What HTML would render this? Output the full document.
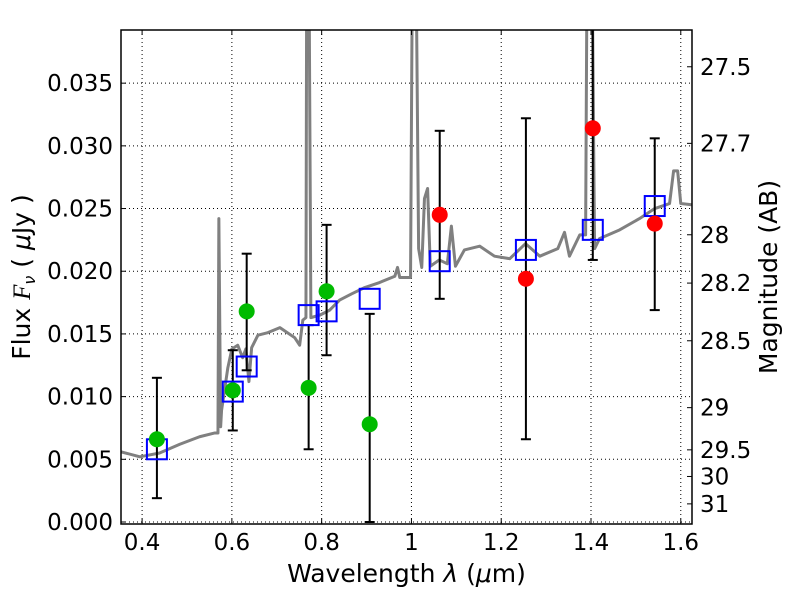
<!DOCTYPE html>
<html><head><meta charset="utf-8"><style>
body{margin:0;background:#fff;}
svg text{font-family:"DejaVu Sans","Liberation Sans",sans-serif;fill:#000;}
</style></head><body>
<svg id="chart" width="800" height="600" viewBox="0 0 800 600" xmlns="http://www.w3.org/2000/svg">
<rect x="0" y="0" width="800" height="600" fill="#fff"/>
<g id="grid"></g>
<g id="spec"></g>
<g id="marks"></g>
<g id="axes"></g>
</svg>
<script>
const specLam=[0.353,0.395,0.439,0.484,0.528,0.562,0.569,0.571,0.575,0.577,0.591,0.600,0.613,0.624,0.631,0.638,0.644,0.658,0.680,0.707,0.740,0.751,0.758,0.765,0.767,0.771,0.776,0.796,0.818,0.840,0.867,0.896,0.929,0.963,0.969,0.974,0.998,1.003,1.009,1.016,1.023,1.029,1.036,1.042,1.062,1.080,1.089,1.098,1.118,1.152,1.185,1.219,1.254,1.286,1.326,1.341,1.352,1.375,1.388,1.392,1.401,1.408,1.419,1.464,1.508,1.542,1.575,1.584,1.593,1.600,1.624];
const specFlux=[0.0056,0.0052,0.0055,0.0062,0.0068,0.0071,0.0071,0.0242,0.0076,0.0089,0.0123,0.0138,0.0141,0.0131,0.0138,0.0112,0.0139,0.0149,0.0151,0.0155,0.0147,0.0141,0.0161,0.0163,0.05,0.05,0.0163,0.0165,0.0169,0.0177,0.0182,0.0187,0.0191,0.0196,0.0203,0.0195,0.0195,0.05,0.05,0.0218,0.0203,0.0258,0.0266,0.0204,0.0209,0.0206,0.0236,0.0204,0.0217,0.022,0.0212,0.021,0.0222,0.0212,0.0218,0.0231,0.0212,0.0229,0.0229,0.05,0.05,0.0218,0.0226,0.0233,0.0242,0.025,0.0254,0.028,0.028,0.0254,0.0253];
const greenLam=[0.433,0.602,0.633,0.771,0.811,0.907];
const greenFlux=[0.0066,0.0105,0.0168,0.0107,0.0184,0.0078];
const greenLo=[0.0019,0.0073,0.0121,0.0058,0.0133,0.0];
const greenHi=[0.0115,0.0137,0.0214,0.0157,0.0237,0.0166];
const redLam=[1.063,1.255,1.404,1.542];
const redFlux=[0.0245,0.0194,0.0314,0.0238];
const redLo=[0.0178,0.0066,0.0209,0.0169];
const redHi=[0.0312,0.0322,0.045,0.0306];
const modelLam=[0.433,0.602,0.633,0.771,0.811,0.907,1.063,1.255,1.404,1.542];
const modelFlux=[0.0058,0.0104,0.0124,0.0165,0.0168,0.0178,0.0208,0.0217,0.0233,0.0252];
const xTicks=[0.4,0.6,0.8,1.0,1.2,1.4,1.6];
const xTickLabels=["0.4","0.6","0.8","1","1.2","1.4","1.6"];
const yTicks=[0,0.005,0.01,0.015,0.02,0.025,0.03,0.035];
const yTickLabels=["0.000","0.005","0.010","0.015","0.020","0.025","0.030","0.035"];
const magTicks=[27.5,27.7,28,28.2,28.5,29,29.5,30,31];
const magTickLabels=["27.5","27.7","28","28.2","28.5","29","29.5","30","31"];

const L=121,R=692,T=30,B=524;
const X0=0.353,X1=1.625,Y0=-0.00016,Y1=0.03924;
const sx=v=>L+(v-X0)/(X1-X0)*(R-L);
const sy=v=>B-(v-Y0)/(Y1-Y0)*(B-T);
const magToFlux=m=>Math.pow(10,(23.9-m)/2.5);
const NS="http://www.w3.org/2000/svg";
function mk(tag,attrs,parent){const e=document.createElementNS(NS,tag);for(const k in attrs)e.setAttribute(k,attrs[k]);parent.appendChild(e);return e;}
const grid=document.getElementById('grid'),spec=document.getElementById('spec'),marks=document.getElementById('marks'),axes=document.getElementById('axes');

mk('clipPath',{id:'clip'},document.getElementById('chart'));
mk('rect',{x:L,y:T,width:R-L,height:B-T},document.getElementById('clip'));
spec.setAttribute('clip-path','url(#clip)');
marks.setAttribute('clip-path','url(#clip)');

const TF=23;
xTicks.forEach((v,i)=>{
  const x=sx(v);
  const g=mk('line',{x1:x,x2:x,y1:T,y2:B,stroke:'#000','stroke-width':1,'stroke-dasharray':'1,3'},grid);
  
  
  mk('line',{x1:x,x2:x,y1:B,y2:B-5,stroke:'#000'},axes);
  mk('line',{x1:x,x2:x,y1:T,y2:T+5,stroke:'#000'},axes);
  const t=mk('text',{x:x,y:B+26,'font-size':TF,'text-anchor':'middle'},axes);
  t.textContent=xTickLabels[i];
  
  
});
yTicks.forEach((v,i)=>{
  const y=sy(v);
  const g=mk('line',{x1:L,x2:R,y1:y,y2:y,stroke:'#000','stroke-width':1,'stroke-dasharray':'1,3'},grid);
  
  
  mk('line',{x1:L,x2:L+5,y1:y,y2:y,stroke:'#000'},axes);
  const t=mk('text',{x:L-8,y:y+8,'font-size':TF,'text-anchor':'end'},axes);
  t.textContent=yTickLabels[i];
  
  
});
magTicks.forEach((m,i)=>{
  const y=sy(magToFlux(m));
  mk('line',{x1:R,x2:R-5,y1:y,y2:y,stroke:'#000'},axes);
  const t=mk('text',{x:R+8,y:y+8,'font-size':TF,'text-anchor':'start'},axes);
  t.textContent=magTickLabels[i];
  
  
});

const sp=mk('polyline',{points:specLam.map((l,i)=>sx(l)+','+sy(specFlux[i])).join(' '),fill:'none',stroke:'#808080','stroke-width':3,'stroke-linejoin':'round'},spec);



function errbar(l,lo,hi){
  const x=sx(l),y1=sy(lo),y2=sy(hi);
  const e=mk('g',{},marks);
  
  
  mk('line',{x1:x,x2:x,y1:y1,y2:y2,stroke:'#000','stroke-width':2},e);
  mk('line',{x1:x-5,x2:x+5,y1:y1,y2:y1,stroke:'#000','stroke-width':2},e);
  mk('line',{x1:x-5,x2:x+5,y1:y2,y2:y2,stroke:'#000','stroke-width':2},e);
}
greenLam.forEach((l,i)=>errbar(l,greenLo[i],greenHi[i]));
redLam.forEach((l,i)=>errbar(l,redLo[i],redHi[i]));
modelLam.forEach((l,i)=>{
  const r=mk('rect',{x:sx(l)-10,y:sy(modelFlux[i])-10,width:20,height:20,fill:'none',stroke:'#0000ff','stroke-width':2},marks);
  
  
});
greenLam.forEach((l,i)=>{
  const c=mk('circle',{cx:sx(l),cy:sy(greenFlux[i]),r:8,fill:'#00bb00'},marks);
  
  
});
redLam.forEach((l,i)=>{
  const c=mk('circle',{cx:sx(l),cy:sy(redFlux[i]),r:8,fill:'#ff0000'},marks);
  
  
});

const fr=mk('rect',{x:L,y:T,width:R-L,height:B-T,fill:'none',stroke:'#000','stroke-width':1.5},axes);


const xl=mk('text',{x:(L+R)/2,y:582,'font-size':25,'text-anchor':'middle'},axes);
xl.innerHTML='Wavelength  <tspan font-style="italic">λ</tspan> (<tspan font-style="italic">μ</tspan>m)';


const yl=mk('text',{x:0,y:0,'font-size':25,'text-anchor':'middle',transform:'translate(30,'+((T+B)/2)+') rotate(-90)'},axes);
yl.innerHTML='Flux  <tspan font-style="italic" font-family="Liberation Serif, serif">F</tspan><tspan font-style="italic" font-size="16" dy="5">ν</tspan><tspan dy="-5">  ( </tspan><tspan font-style="italic">μ</tspan>Jy )';


const ml=mk('text',{x:0,y:0,'font-size':25,'text-anchor':'middle',transform:'translate(777,'+((T+B)/2)+') rotate(-90)'},axes);
ml.textContent='Magnitude (AB)';


</script>
</body></html>
